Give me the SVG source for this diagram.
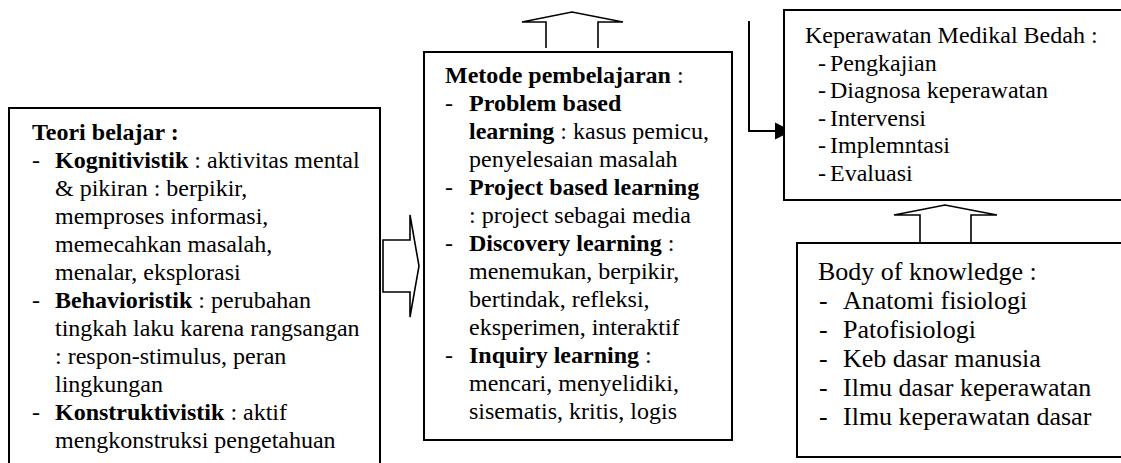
<svg xmlns="http://www.w3.org/2000/svg" width="1121" height="463" viewBox="0 0 1121 463">
  <defs>
    <style>
      .box { fill: #ffffff; stroke: #000000; stroke-width: 2; }
      .blk { fill: #ffffff; stroke: #000000; stroke-width: 1.6; stroke-linejoin: miter; }
      .line { fill: none; stroke: #000000; stroke-width: 2; }
      text { font-family: "Liberation Serif", "Times New Roman", serif; font-size: 24px; fill: #000000; }
      .lg { font-size: 26px; }
      .b { font-weight: bold; }
    </style>
    <marker id="head" markerWidth="10" markerHeight="10" refX="9" refY="5" orient="auto" markerUnits="userSpaceOnUse" viewBox="0 0 10 10">
      <path d="M0,0 L10,5 L0,10 Z" fill="#000000"/>
    </marker>
  </defs>

  <rect width="1121" height="463" fill="#ffffff"/>

  <!-- connectors -->
  <g id="connectors">
    <!-- block arrow: theories to methods -->
    <path class="blk" d="M383,240 L410,240 L410,215 L419,266 L410,317 L410,292 L383,292 Z"/>
    <!-- block arrow above methods -->
    <path class="blk" d="M546,48 L546,22 L522,22 L572,12 L623,22 L598,22 L598,48"/>
    <!-- block arrow: body of knowledge up to nursing process -->
    <path class="blk" d="M920,242 L920,215 L894,215 L945,205 L997,215 L971,215 L971,242"/>
    <!-- elbow line into nursing process -->
    <path class="line" d="M749,21 L749,131 L776,131"/>
    <path d="M775,122.5 L792,131 L775,139.5 Z" fill="#000000"/>
  </g>

  <!-- learning theories -->
  <g id="teori-belajar">
    <path class="box" d="M9,463 L9,108 L380,108 L380,463"/>
    <text x="32" y="140" class="b">Teori belajar :</text>
    <text x="32" y="168">-</text>
    <text x="55" y="168"><tspan class="b">Kognitivistik</tspan> : aktivitas mental</text>
    <text x="55" y="196">&amp; pikiran : berpikir,</text>
    <text x="55" y="224">memproses informasi,</text>
    <text x="55" y="252">memecahkan masalah,</text>
    <text x="55" y="280">menalar, eksplorasi</text>
    <text x="32" y="308">-</text>
    <text x="55" y="308"><tspan class="b">Behavioristik</tspan> : perubahan</text>
    <text x="55" y="336">tingkah laku karena rangsangan</text>
    <text x="55" y="364">: respon-stimulus, peran</text>
    <text x="55" y="392">lingkungan</text>
    <text x="32" y="420">-</text>
    <text x="55" y="420"><tspan class="b">Konstruktivistik</tspan> : aktif</text>
    <text x="55" y="448">mengkonstruksi pengetahuan</text>
  </g>

  <!-- learning methods -->
  <g id="metode-pembelajaran">
    <rect class="box" x="424" y="52" width="308" height="388"/>
    <text x="445" y="83"><tspan class="b">Metode pembelajaran</tspan> :</text>
    <text x="445" y="111">-</text>
    <text x="469" y="111" class="b">Problem based</text>
    <text x="469" y="139"><tspan class="b">learning</tspan> : kasus pemicu,</text>
    <text x="469" y="167">penyelesaian masalah</text>
    <text x="445" y="195">-</text>
    <text x="469" y="195" class="b">Project based learning</text>
    <text x="469" y="223">: project sebagai media</text>
    <text x="445" y="251">-</text>
    <text x="469" y="251"><tspan class="b">Discovery learning</tspan> :</text>
    <text x="469" y="279">menemukan, berpikir,</text>
    <text x="469" y="307">bertindak, refleksi,</text>
    <text x="469" y="335">eksperimen, interaktif</text>
    <text x="445" y="363">-</text>
    <text x="469" y="363"><tspan class="b">Inquiry learning</tspan> :</text>
    <text x="469" y="391">mencari, menyelidiki,</text>
    <text x="469" y="419">sisematis, kritis, logis</text>
  </g>

  <!-- nursing process -->
  <g id="keperawatan-medikal-bedah">
    <path class="box" d="M1121,10 L784,10 L784,200 L1121,200"/>
    <text x="805" y="43">Keperawatan Medikal Bedah :</text>
    <text x="818" y="70.6">-</text>
    <text x="830" y="70.6">Pengkajian</text>
    <text x="818" y="98.2">-</text>
    <text x="830" y="98.2">Diagnosa keperawatan</text>
    <text x="818" y="125.8">-</text>
    <text x="830" y="125.8">Intervensi</text>
    <text x="818" y="153.4">-</text>
    <text x="830" y="153.4">Implemntasi</text>
    <text x="818" y="181">-</text>
    <text x="830" y="181">Evaluasi</text>
  </g>

  <!-- body of knowledge -->
  <g id="body-of-knowledge">
    <path class="box" d="M1121,243 L797,243 L797,457 L1121,457"/>
    <text x="818" y="280" class="lg">Body of knowledge :</text>
    <text x="819" y="309" class="lg">-</text>
    <text x="843" y="309" class="lg">Anatomi fisiologi</text>
    <text x="819" y="338" class="lg">-</text>
    <text x="843" y="338" class="lg">Patofisiologi</text>
    <text x="819" y="367" class="lg">-</text>
    <text x="843" y="367" class="lg">Keb dasar manusia</text>
    <text x="819" y="396" class="lg">-</text>
    <text x="843" y="396" class="lg">Ilmu dasar keperawatan</text>
    <text x="819" y="425" class="lg">-</text>
    <text x="843" y="425" class="lg">Ilmu keperawatan dasar</text>
  </g>
</svg>
